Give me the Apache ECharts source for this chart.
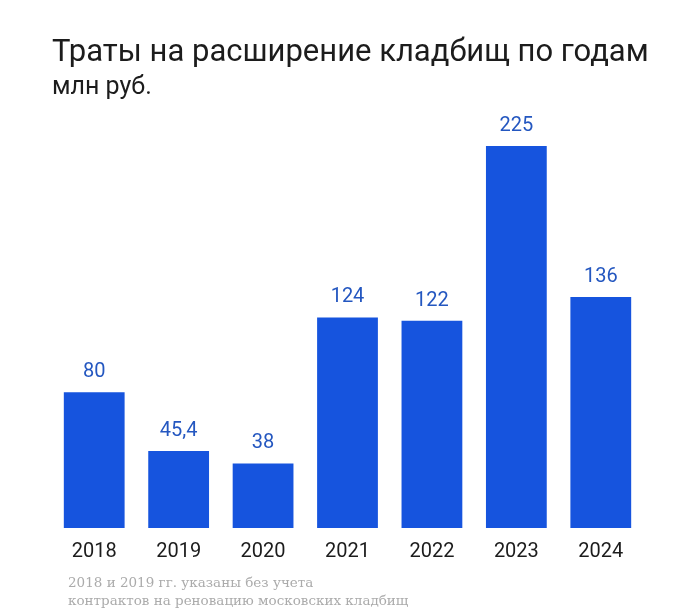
<!DOCTYPE html>
<html><head><meta charset="utf-8">
<script src="https://cdn.jsdelivr.net/npm/echarts@6/dist/echarts.min.js"></script>
<style>html,body{margin:0;padding:0;background:#fff}#c{width:700px;height:615px}</style>
</head><body><div id="c"></div>
<script>
const categories = ['2018','2019','2020','2021','2022','2023','2024'];
const values = [80, 45.4, 38, 124, 122, 225, 136];
const titleText = 'Траты на расширение кладбищ по годам';
const subtitleText = 'млн руб.';
const noteLines = ['2018 и 2019 гг. указаны без учета', 'контрактов на реновацию московских кладбищ'];

const chart = echarts.init(document.getElementById('c'), null, {renderer:'canvas'});
chart.setOption({
  backgroundColor:'#ffffff',
  animation:false,
  title:[
    {text:titleText, left:47, top:33, textStyle:{fontFamily:'Roboto', fontWeight:'normal', fontSize:31, color:'#1c1c1c'}},
    {text:subtitleText, left:47, top:70, textStyle:{fontFamily:'Roboto', fontWeight:'normal', fontSize:25, color:'#1c1c1c'}},
    {text:noteLines.join('\n'), left:63, top:569, textStyle:{fontFamily:'DejaVu Serif', fontWeight:'normal', fontSize:13.5, color:'#ababab', lineHeight:18}}
  ],
  grid:{left:52, right:57, top:146, bottom:87},
  xAxis:{type:'category', data:categories,
    axisLine:{show:false}, axisTick:{show:false},
    axisLabel:{fontFamily:'Roboto', fontSize:20, color:'#1c1c1c', margin:14}},
  yAxis:{type:'value', min:0, max:225, show:false, splitLine:{show:false}},
  series:[{type:'bar', data:values, barCategoryGap:'28%',
    itemStyle:{color:'#1654de'},
    label:{show:true, position:'top', distance:10, fontFamily:'Roboto', fontSize:20, color:'#2457c0',
      formatter:p=>String(p.value).replace('.',',')}}]
});
</script></body></html>
